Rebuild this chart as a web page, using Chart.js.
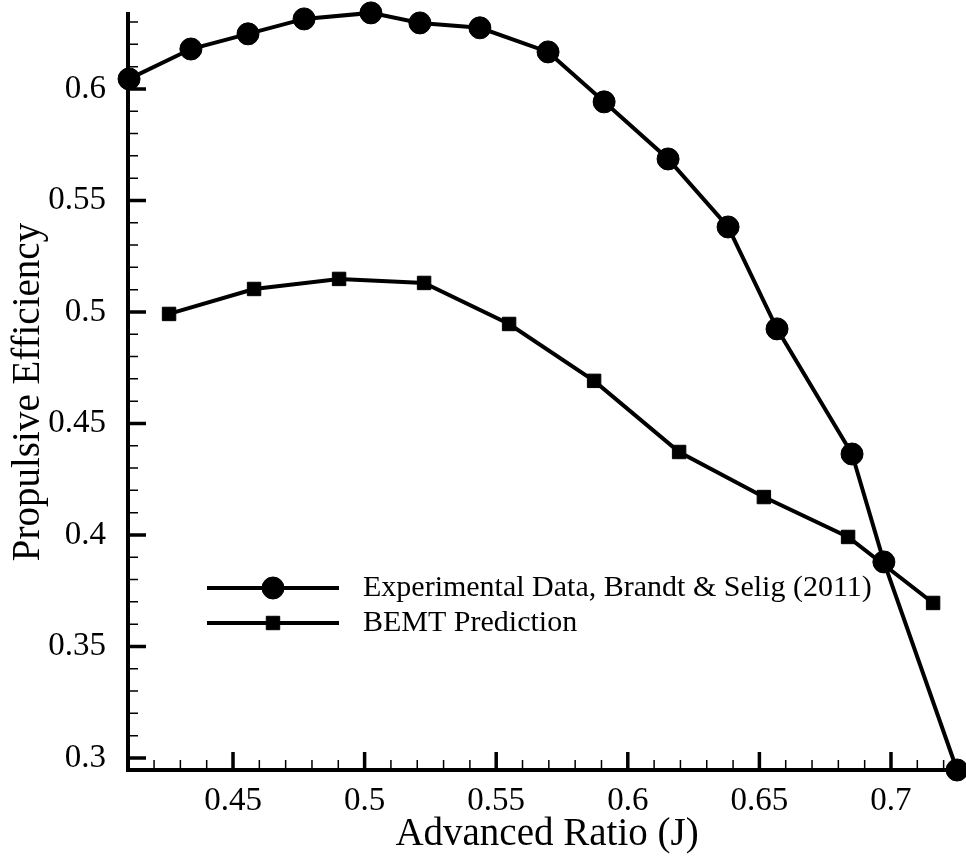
<!DOCTYPE html>
<html>
<head>
<meta charset="utf-8">
<script src="https://cdn.jsdelivr.net/npm/chart.js@4.4.1/dist/chart.umd.min.js"></script>
<style>
  body { margin: 0; background: #fff; }
  #wrap { width: 966px; height: 856px; position: relative; }
</style>
</head>
<body>
<div id="wrap"><canvas id="effChart"></canvas></div>
<script>
// Experimental data, Brandt & Selig (2011)
const expJ = [0.4105, 0.4340, 0.4557, 0.4770, 0.5024, 0.5210, 0.5438, 0.5697, 0.5910, 0.6153, 0.6381, 0.6567, 0.6852, 0.6973, 0.7251];
const expEff = [0.6045, 0.6179, 0.6247, 0.6314, 0.6341, 0.6296, 0.6274, 0.6166, 0.5942, 0.5686, 0.5381, 0.4924, 0.4363, 0.3879, 0.2946];

// BEMT prediction
const bemtJ = [0.4257, 0.4580, 0.4903, 0.5226, 0.5549, 0.5872, 0.6195, 0.6517, 0.6837, 0.7160];
const bemtEff = [0.4991, 0.5103, 0.5148, 0.5130, 0.4946, 0.4691, 0.4372, 0.4170, 0.3991, 0.3695];

const xTicks = [0.45, 0.5, 0.55, 0.6, 0.65, 0.7];
const yTicks = [0.3, 0.35, 0.4, 0.45, 0.5, 0.55, 0.6];
const seriesNames = ['Experimental Data, Brandt & Selig (2011)', 'BEMT Prediction'];

const FONT = '"Liberation Serif", "Times New Roman", serif';

function toPoints(xs, ys) {
    return xs.map((x, i) => ({ x: x, y: ys[i] }));
}

function fmt(v) {
    return String(Math.round(v * 100) / 100);
}

// inward major/minor tick marks like the original plot
const tickMarks = {
    id: 'tickMarks',
    beforeDatasetsDraw(chart) {
        const ctx = chart.ctx;
        const xs = chart.scales.x, ys = chart.scales.y;
        const area = chart.chartArea;
        ctx.save();
        ctx.strokeStyle = '#000';
        ctx.lineCap = 'butt';

        // minor ticks every 0.01
        ctx.lineWidth = 1.5;
        ctx.beginPath();
        for (let k = Math.ceil(xs.min * 100); k <= Math.floor(xs.max * 100); k++) {
            if (k % 5 === 0) continue;
            const px = xs.getPixelForValue(k / 100);
            ctx.moveTo(px, area.bottom);
            ctx.lineTo(px, area.bottom - 10);
        }
        for (let k = Math.ceil(ys.min * 100); k <= Math.floor(ys.max * 100); k++) {
            if (k % 5 === 0) continue;
            const py = ys.getPixelForValue(k / 100);
            ctx.moveTo(area.left, py);
            ctx.lineTo(area.left + 10, py);
        }
        ctx.stroke();

        // major ticks
        ctx.lineWidth = 3.5;
        ctx.beginPath();
        xTicks.forEach(v => {
            const px = xs.getPixelForValue(v);
            ctx.moveTo(px, area.bottom);
            ctx.lineTo(px, area.bottom - 18);
        });
        yTicks.forEach(v => {
            const py = ys.getPixelForValue(v);
            ctx.moveTo(area.left, py);
            ctx.lineTo(area.left + 18, py);
        });
        ctx.stroke();
        ctx.restore();
    }
};

// legend placed inside the plot, as in the original
const insideLegend = {
    id: 'insideLegend',
    afterDatasetsDraw(chart) {
        const ctx = chart.ctx;
        const rows = [588, 623];
        ctx.save();
        chart.data.datasets.forEach((ds, i) => {
            const y = rows[i];
            ctx.strokeStyle = ds.borderColor;
            ctx.lineWidth = ds.borderWidth;
            ctx.beginPath();
            ctx.moveTo(207, y);
            ctx.lineTo(339, y);
            ctx.stroke();
            ctx.fillStyle = ds.pointBackgroundColor;
            ctx.strokeStyle = ds.pointBorderColor;
            ctx.lineWidth = ds.pointBorderWidth;
            Chart.helpers.drawPoint(ctx, {
                pointStyle: ds.pointStyle,
                radius: ds.pointRadius,
                borderWidth: ds.pointBorderWidth,
                rotation: 0
            }, 273, y);
            ctx.fillStyle = '#000';
            ctx.font = '30px ' + FONT;
            ctx.textAlign = 'left';
            ctx.textBaseline = 'middle';
            ctx.fillText(ds.label, 363, y);
        });
        ctx.restore();
    }
};

const chart = new Chart(document.getElementById('effChart'), {
    type: 'line',
    data: {
        datasets: [{
            label: seriesNames[0],
            data: toPoints(expJ, expEff),
            borderColor: '#000',
            borderWidth: 4,
            pointStyle: 'circle',
            pointRadius: 11,
            pointBackgroundColor: '#000',
            pointBorderColor: '#000',
            pointBorderWidth: 1,
            tension: 0,
            clip: false
        }, {
            label: seriesNames[1],
            data: toPoints(bemtJ, bemtEff),
            borderColor: '#000',
            borderWidth: 4,
            pointStyle: 'rect',
            pointRadius: 9.5,
            pointBackgroundColor: '#000',
            pointBorderColor: '#000',
            pointBorderWidth: 1,
            tension: 0,
            clip: false
        }]
    },
    options: {
        responsive: true,
        maintainAspectRatio: false,
        animation: false,
        layout: { autoPadding: false, padding: { top: 14, right: 0, bottom: 0, left: 0 } },
        plugins: {
            legend: { display: false },
            tooltip: { enabled: false }
        },
        scales: {
            x: {
                type: 'linear',
                min: 0.4101,
                max: 0.7285,
                grid: { display: false },
                border: { display: true, color: '#000', width: 4 },
                afterBuildTicks: s => { s.ticks = xTicks.map(v => ({ value: v })); },
                afterFit: s => { s.height = 86; s.paddingLeft = 0; s.paddingRight = 0; },
                ticks: {
                    color: '#000',
                    padding: 4,
                    maxRotation: 0,
                    autoSkip: false,
                    font: { family: FONT, size: 33 },
                    callback: v => fmt(v)
                },
                title: {
                    display: true,
                    text: 'Advanced Ratio (J)',
                    color: '#000',
                    font: { family: FONT, size: 39, lineHeight: 1 },
                    padding: { top: 0, bottom: 2 }
                }
            },
            y: {
                type: 'linear',
                min: 0.2946,
                max: 0.6336,
                grid: { display: false },
                border: { display: true, color: '#000', width: 4 },
                afterBuildTicks: s => { s.ticks = yTicks.map(v => ({ value: v })); },
                afterFit: s => { s.width = 128; s.paddingTop = 0; s.paddingBottom = 0; },
                ticks: {
                    color: '#000',
                    padding: 14,
                    autoSkip: false,
                    font: { family: FONT, size: 33 },
                    callback: v => fmt(v)
                },
                title: {
                    display: true,
                    text: 'Propulsive Efficiency',
                    color: '#000',
                    font: { family: FONT, size: 39, lineHeight: 1 },
                    padding: { top: 9, bottom: 0 }
                }
            }
        }
    },
    plugins: [tickMarks, insideLegend]
});
</script>
</body>
</html>
